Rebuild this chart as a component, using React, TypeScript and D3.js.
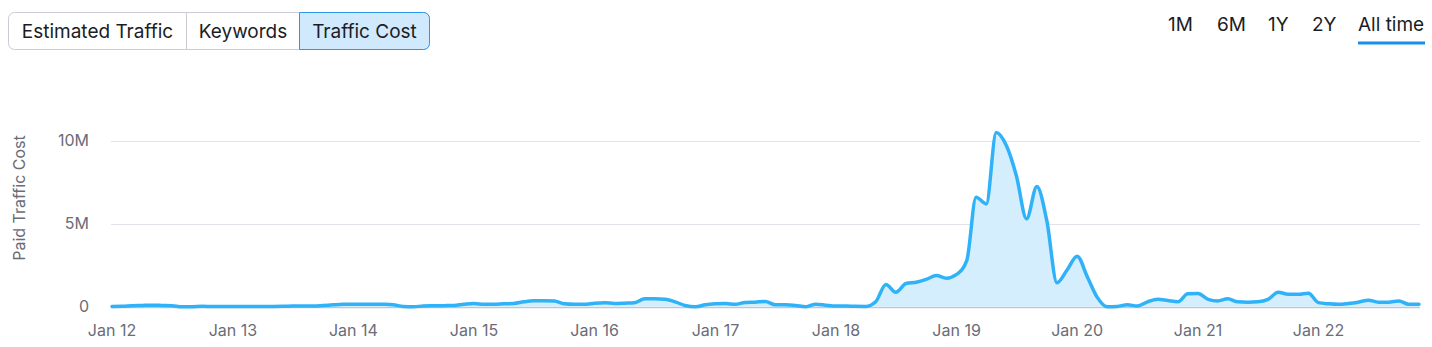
import React from "react";
import * as d3 from "d3";

const startMonth = new Date(2012, 0, 1);
// Monthly paid traffic cost (millions), Jan 2012 – Nov 2022
const costMillions: number[] = [
  // 2012
  0.02, 0.03, 0.06, 0.08, 0.1, 0.08, 0.06, 0.0, 0.01, 0.03, 0.02, 0.02,
  // 2013
  0.02, 0.02, 0.02, 0.02, 0.02, 0.03, 0.05, 0.05, 0.05, 0.08, 0.12, 0.15,
  // 2014
  0.15, 0.15, 0.16, 0.15, 0.12, 0.02, 0.0, 0.05, 0.06, 0.07, 0.08, 0.15,
  // 2015
  0.2, 0.15, 0.15, 0.18, 0.2, 0.3, 0.36, 0.37, 0.35, 0.18, 0.15, 0.15,
  // 2016
  0.22, 0.25, 0.2, 0.22, 0.25, 0.48, 0.48, 0.45, 0.3, 0.08, 0.0, 0.12,
  // 2017
  0.18, 0.2, 0.15, 0.26, 0.28, 0.32, 0.12, 0.12, 0.08, 0.0, 0.16, 0.1,
  // 2018
  0.05, 0.05, 0.03, 0.02, 0.3, 1.35, 0.88, 1.4, 1.48, 1.65, 1.88, 1.72,
  // 2019
  1.95, 2.8, 6.6, 6.2, 10.5, 9.7, 7.9, 5.3, 7.25, 5.2, 1.45, 2.2,
  // 2020
  3.05, 1.8, 0.6, 0.0, 0.02, 0.12, 0.05, 0.3, 0.45, 0.38, 0.3, 0.78,
  // 2021
  0.8, 0.45, 0.35, 0.48, 0.3, 0.28, 0.3, 0.45, 0.88, 0.75, 0.75, 0.82,
  // 2022
  0.25, 0.18, 0.15, 0.2, 0.28, 0.4, 0.28, 0.28, 0.35, 0.15, 0.15,
];

const yTicks: number[] = [0, 5e6, 10e6];
const yTickLabels: string[] = ["0", "5M", "10M"];
const metricTabs: string[] = ["Estimated Traffic", "Keywords", "Traffic Cost"];
const selectedTab = "Traffic Cost";
const rangeTabs: string[] = ["1M", "6M", "1Y", "2Y", "All time"];
const selectedRange = "All time";
const yTitle = "Paid Traffic Cost";

type Pt = { date: Date; value: number };
const data: Pt[] = costMillions.map((v, i) => ({
  date: d3.timeMonth.offset(startMonth, i),
  value: v * 1e6,
}));

const W = 1432;
const H = 347;
const FONT = "Inter, 'Noto Sans', sans-serif";

export default function App() {
  const x = d3
    .scaleTime()
    .domain([data[0].date, data[data.length - 1].date])
    .range([112, 1419]);
  const y = d3.scaleLinear().domain([0, 12e6]).range([306.8, 107.6]);

  const line = d3
    .line<Pt>()
    .x((d) => x(d.date))
    .y((d) => y(d.value))
    .curve(d3.curveMonotoneX);
  const area = d3
    .area<Pt>()
    .x((d) => x(d.date))
    .y0(y(0))
    .y1((d) => y(d.value))
    .curve(d3.curveMonotoneX);

  const xTicks = x.ticks(d3.timeYear.every(1)!);
  const fmt = d3.timeFormat("Jan %y");

  const tabEdges = [8.5, 186.5, 299.5, 429.5];
  const rangeX = [1168, 1217, 1268, 1312, 1358];

  return (
    <svg
      width={W}
      height={H}
      style={{ position: "absolute", left: 0, top: 0, fontFamily: FONT }}
    >
      {/* metric tabs */}
      <rect
        x={tabEdges[0]}
        y={12.5}
        width={tabEdges[3] - tabEdges[0]}
        height={37}
        rx={6}
        fill="#fff"
        stroke="#c9ccd4"
      />
      {metricTabs.map((t, i) => {
        const x0 = tabEdges[i];
        const x1 = tabEdges[i + 1];
        const sel = t === selectedTab;
        return (
          <g key={t}>
            {sel && (
              <path
                d={`M${x0},12.5 H${x1 - 6} a6,6 0 0 1 6,6 V${49.5 - 6} a6,6 0 0 1 -6,6 H${x0} Z`}
                fill="#d1e9fc"
                stroke="#2e96ea"
              />
            )}
            {i > 0 && !sel && (
              <line x1={x0} x2={x0} y1={12.5} y2={49.5} stroke="#c9ccd4" />
            )}
            <text
              x={(x0 + x1) / 2}
              y={38}
              textAnchor="middle"
              fontSize={19}
              fill="#1b1d25"
            >
              {t}
            </text>
          </g>
        );
      })}

      {/* range tabs */}
      {rangeTabs.map((t, i) => (
        <text key={t} x={rangeX[i]} y={31} fontSize={19} fill="#1b1d25">
          {t}
        </text>
      ))}
      <rect
        x={rangeX[rangeTabs.indexOf(selectedRange)]}
        y={41.5}
        width={67}
        height={3}
        fill="#1a8ef0"
      />

      {/* grid */}
      {yTicks.map((t, i) => (
        <g key={t}>
          <line
            x1={111}
            x2={1420}
            y1={Math.round(y(t)) + 0.5}
            y2={Math.round(y(t)) + 0.5}
            stroke={t === 0 ? "#c3c6cf" : "#e2e3ea"}
            strokeWidth={t === 0 ? 1.5 : 1}
          />
          <text
            x={89}
            y={y(t)}
            dy="0.35em"
            textAnchor="end"
            fontSize={16}
            fill="#6a6c78"
          >
            {yTickLabels[i]}
          </text>
        </g>
      ))}

      <text
        transform={`translate(25,198) rotate(-90)`}
        textAnchor="middle"
        fontSize={16}
        fill="#6a6c78"
      >
        {yTitle}
      </text>

      {/* x ticks */}
      {xTicks.map((t) => (
        <text
          key={+t}
          x={x(t)}
          y={336}
          textAnchor="middle"
          fontSize={16}
          fill="#6a6c78"
        >
          {fmt(t)}
        </text>
      ))}

      {/* area and line */}
      <path d={area(data) || ""} fill="#d3edfd" opacity={0.95} />
      <path
        d={line(data) || ""}
        fill="none"
        stroke="#30b2f9"
        strokeWidth={3.5}
        strokeLinejoin="round"
        strokeLinecap="round"
      />
    </svg>
  );
}
